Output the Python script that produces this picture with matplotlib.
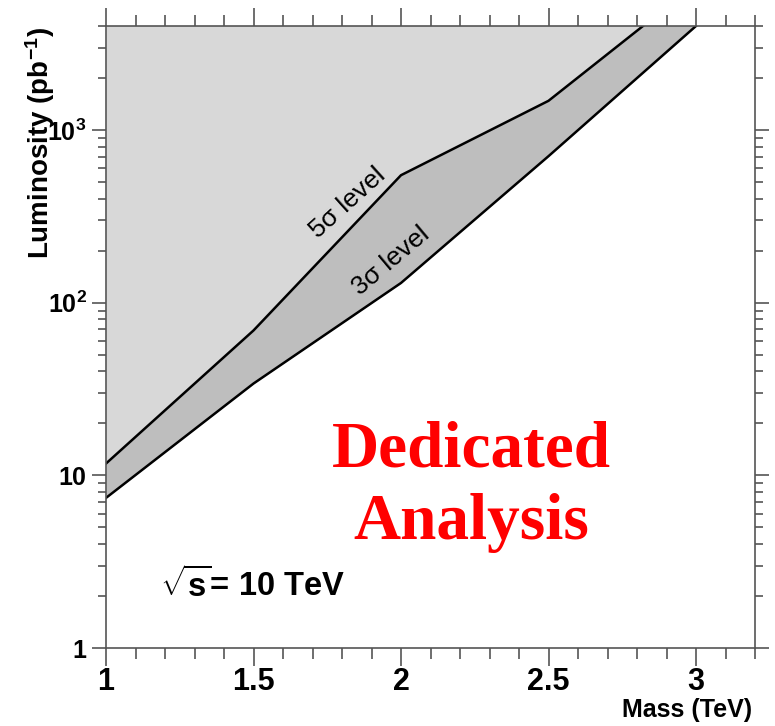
import matplotlib
matplotlib.use("Agg")
import matplotlib.pyplot as plt
from matplotlib.ticker import FixedLocator, FixedFormatter, MultipleLocator, NullFormatter
import numpy as np

# Data
mass = [1.0, 1.5, 2.0, 2.5, 3.0]
lum_5sigma = [11.7, 69, 547, 1475, 7000]
lum_3sigma = [7.4, 34, 130, 705, 4000]

ytick_vals = [1, 10, 100, 1000]
ytick_labels = ["1", "10", r"$\mathbf{10^2}$", r"$\mathbf{10^3}$"]
xtick_vals = [1, 1.5, 2, 2.5, 3]
xtick_labels = ["1", "1.5", "2", "2.5", "3"]

plt.rcParams["font.family"] = ["Liberation Sans", "DejaVu Sans"]
plt.rcParams["mathtext.fontset"] = "custom"
plt.rcParams["mathtext.rm"] = "Liberation Sans"
plt.rcParams["mathtext.bf"] = "Liberation Sans:bold"
plt.rcParams["mathtext.it"] = "Liberation Sans:italic"

light = "#d8d8d8"
dark = "#bebebe"
axcol = "#555555"

fig = plt.figure(figsize=(7.75, 7.26), dpi=100)
ax = fig.add_axes([106 / 775, 78 / 726, (755 - 106) / 775, (648 - 26) / 726])

ax.set_yscale("log")
ax.set_xlim(1, 3.2)
ax.set_ylim(1, 4000)

ax.fill_between(mass, lum_5sigma, 1e5, color=light, lw=0)
ax.fill_between(mass, lum_3sigma, lum_5sigma, color=dark, lw=0)
ax.plot(mass, lum_5sigma, color="black", lw=1.8)
ax.plot(mass, lum_3sigma, color="black", lw=1.8)

# ticks
ax.xaxis.set_major_locator(FixedLocator(xtick_vals))
ax.xaxis.set_major_formatter(FixedFormatter(xtick_labels))
ax.xaxis.set_minor_locator(MultipleLocator(0.1))
ax.yaxis.set_major_locator(FixedLocator(ytick_vals))
ax.yaxis.set_major_formatter(FixedFormatter(ytick_labels))
ax.yaxis.set_minor_formatter(NullFormatter())

ax.tick_params(axis="both", which="both", direction="out", color=axcol,
               top=True, right=True)
ax.tick_params(axis="x", which="major", length=13, width=1.2, pad=1,
               labelsize=22)
ax.tick_params(axis="x", which="minor", length=8, width=1.2)
ax.tick_params(axis="y", which="major", length=10, width=1.2, pad=4,
               labelsize=18)
ax.tick_params(axis="y", which="minor", length=6, width=1.2)
for lab in ax.get_xticklabels() + ax.get_yticklabels():
    lab.set_fontweight("bold")
for sp in ax.spines.values():
    sp.set_color(axcol)
    sp.set_linewidth(1.2)

# axis titles
fig.text(752 / 775, 1 - 710 / 726, "Mass (TeV)", ha="right", va="center",
         fontsize=18, fontweight="bold")
fig.text(40 / 775, 1 - 27 / 726, "Luminosity (pb$^{\\mathbf{-1}}$)",
         rotation=90, ha="center", va="top", fontsize=20, fontweight="bold")

# curve labels
ax.text(1.82, 376, "5\u03c3 level", rotation=42, ha="center", va="center",
        fontsize=19, fontweight="medium", family=["Liberation Sans", "DejaVu Sans"])
ax.text(1.965, 175, "3\u03c3 level", rotation=40, ha="center", va="center",
        fontsize=19, fontweight="medium", family=["Liberation Sans", "DejaVu Sans"])

ax.text(1.184, 1.98, r"$\sqrt{\mathbf{s}}$= 10 TeV", ha="left",
        va="baseline", fontsize=23.5, fontweight="bold")

ax.text(2.24, 11.3, "Dedicated", ha="center", va="baseline", color="red",
        fontsize=47, fontweight="bold", family="Liberation Serif")
ax.text(2.24, 4.25, "Analysis", ha="center", va="baseline", color="red",
        fontsize=47, fontweight="bold", family="Liberation Serif")

fig.savefig("out.png", dpi=100)
